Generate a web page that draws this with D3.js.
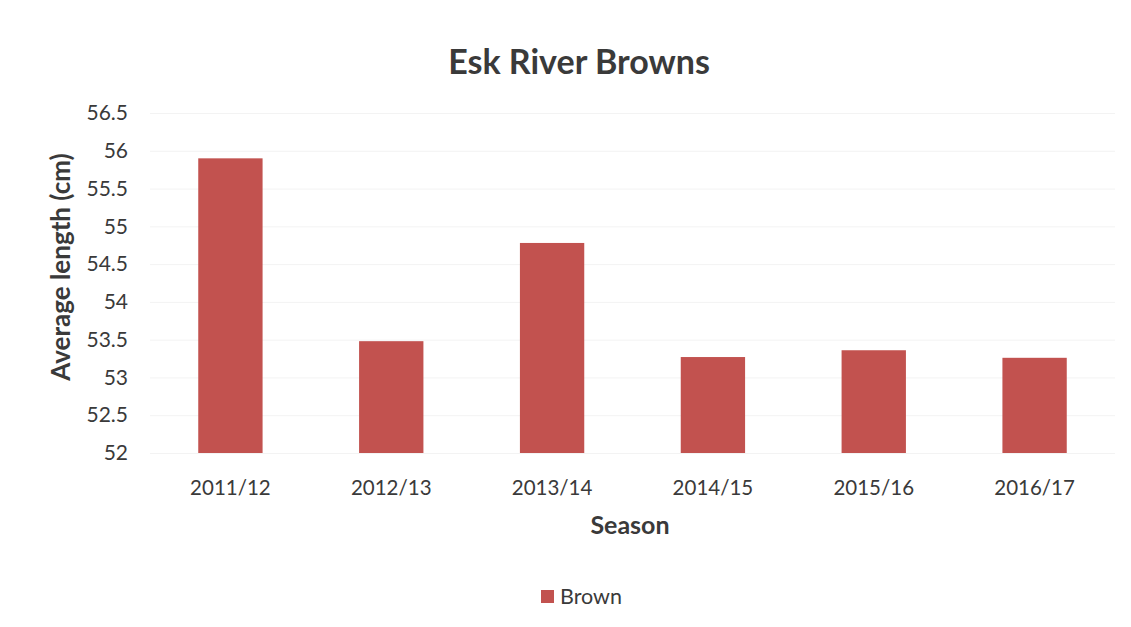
<!DOCTYPE html>
<html lang="en">
<head>
    <meta charset="utf-8">
    <script src="https://d3js.org/d3.v7.min.js"></script>
    <style>
        body { margin: 0; background: #fff; }
        text { font-family: Lato, "Open Sans", sans-serif; fill: #3a3a3a; }
        .bar { fill: #c2524f; }
        .grid line { stroke: #f3f3f3; }
        .grid path { display: none; }
    </style>
</head>
<body>
    <svg width="1131" height="627"></svg>
    <script>
        // data
        var seasons = ["2011/12", "2012/13", "2013/14", "2014/15", "2015/16", "2016/17"];
        var brown = [55.9, 53.48, 54.78, 53.27, 53.36, 53.26];
        var yTicks = [52, 52.5, 53, 53.5, 54, 54.5, 55, 55.5, 56, 56.5];

        var svg = d3.select("svg");
        var margin = { top: 113, right: 16, bottom: 174, left: 150 },
            width = +svg.attr("width") - margin.left - margin.right,
            height = +svg.attr("height") - margin.top - margin.bottom;

        var x = d3.scaleBand()
            .domain(seasons)
            .range([0, width])
            .paddingInner(0.6)
            .paddingOuter(0.3);

        var y = d3.scaleLinear()
            .domain([52, 56.5])
            .range([height, 0]);

        var g = svg.append("g")
            .attr("transform", "translate(" + margin.left + "," + margin.top + ")");

        // faint gridlines
        g.append("g")
            .attr("class", "grid")
            .call(d3.axisLeft(y).tickValues(yTicks).tickSize(-width).tickFormat(""));

        // y axis labels
        var yAxis = g.append("g")
            .call(d3.axisLeft(y).tickValues(yTicks).tickSize(0).tickPadding(22).tickFormat(d3.format("")));
        yAxis.select(".domain").remove();
        yAxis.selectAll("text").style("font-size", "21px").attr("fill", "#3a3a3a");

        // x axis labels
        var xAxis = g.append("g")
            .attr("transform", "translate(0," + height + ")")
            .call(d3.axisBottom(x).tickSize(0).tickPadding(27));
        xAxis.select(".domain").remove();
        xAxis.selectAll("text").style("font-size", "20.5px").attr("fill", "#3a3a3a");

        // bars
        g.selectAll(".bar")
            .data(brown)
            .enter().append("rect")
            .attr("class", "bar")
            .attr("x", function (d, i) { return x(seasons[i]); })
            .attr("y", function (d) { return y(d); })
            .attr("width", x.bandwidth())
            .attr("height", function (d) { return height - y(d); });

        // title
        svg.append("text")
            .attr("x", 579)
            .attr("y", 74)
            .attr("text-anchor", "middle")
            .style("font-size", "34px")
            .style("font-weight", "bold")
            .text("Esk River Browns");

        // axis titles
        svg.append("text")
            .attr("transform", "translate(70,267) rotate(-90)")
            .attr("text-anchor", "middle")
            .style("font-size", "26px")
            .style("font-weight", "bold")
            .text("Average length (cm)");

        svg.append("text")
            .attr("x", 630)
            .attr("y", 534)
            .attr("text-anchor", "middle")
            .style("font-size", "25px")
            .style("font-weight", "bold")
            .text("Season");

        // legend
        var legend = svg.append("g").attr("transform", "translate(541,590)");
        legend.append("rect")
            .attr("class", "bar")
            .attr("width", 13)
            .attr("height", 13);
        legend.append("text")
            .attr("x", 19)
            .attr("y", 14)
            .style("font-size", "21.5px")
            .text("Brown");
    </script>
</body>
</html>
